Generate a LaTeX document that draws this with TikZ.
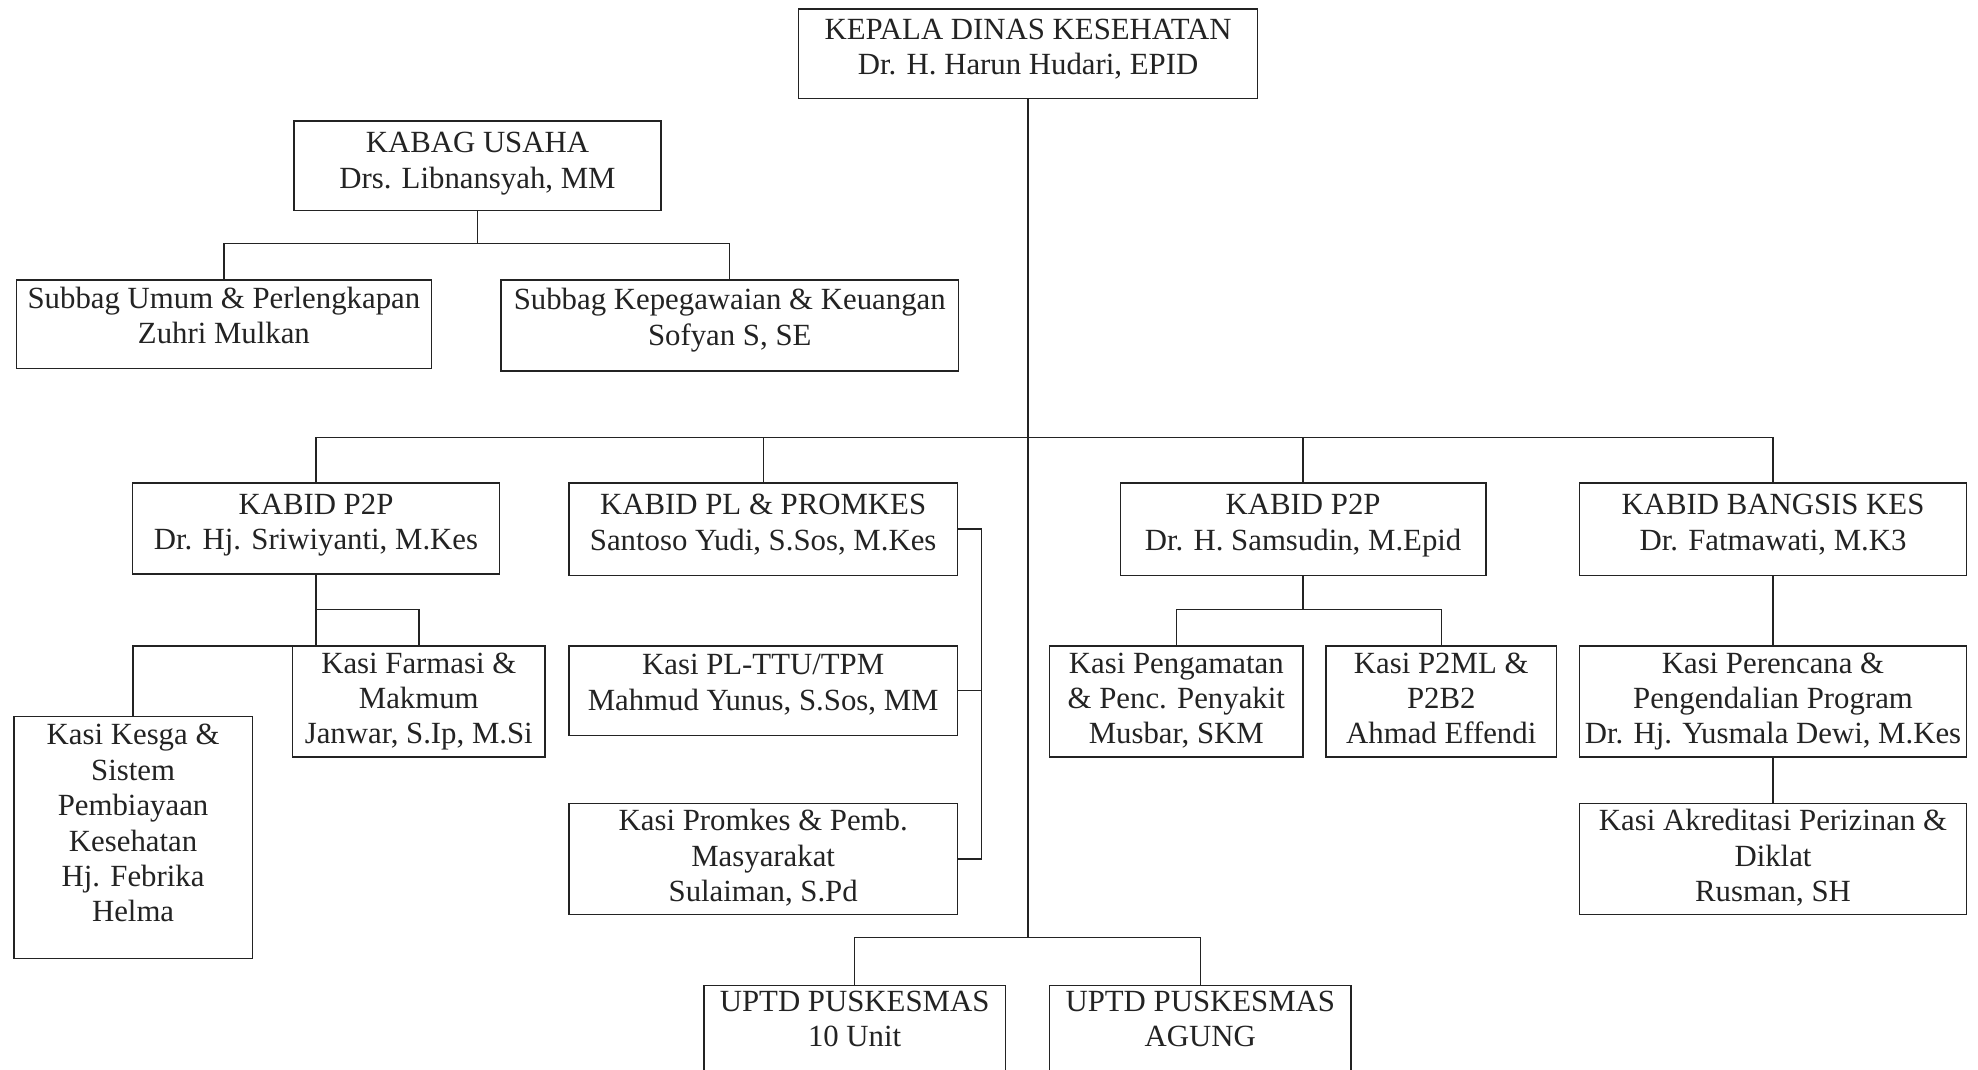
\documentclass[tikz,border=0pt]{standalone}
\usepackage{fontspec}
\setmainfont{Liberation Serif}
\definecolor{ink}{RGB}{35,35,35}
\tikzset{
  box/.style={draw=ink, line width=0.7pt, text=ink, inner sep=0pt,
              font=\fontsize{15.4}{17.7}\selectfont},
  conn/.style={draw=ink, line width=0.7pt}
}
% #1 = raise of the text (reference px), #2 name, #3..#6 corners, #7 text
\newcommand\orgbox[7][0]{\node[box, minimum width={(#5-#3)*0.63075pt}, minimum height={(#6-#4)*0.63075pt}] (#2) at ({(#3+#5)/2},{(#4+#6)/2}) {\raisebox{0pt}[\height][\dimexpr\depth+#1\dimexpr1.2615pt\relax\relax]{\begin{tabular}{@{}c@{}}#7\end{tabular}}};}
\begin{document}
\begin{tikzpicture}[x=0.63075pt, y=-0.63075pt]
\useasboundingbox (0,0) rectangle (1568,848);
\fill[white] (0,0) rectangle (1568,848);
\clip (0,0) rectangle (1568,848);

\orgbox[3]{kepala}{633}{7}{997}{78}{KEPALA DINAS KESEHATAN\\Dr. H. Harun Hudari, EPID}
\orgbox[2]{kabag}{233}{96}{524}{167}{KABAG USAHA\\Drs. Libnansyah, MM}
\orgbox[4]{sumum}{13}{222}{342}{292}{Subbag Umum \& Perlengkapan\\Zuhri Mulkan}
\orgbox[4]{skeu}{397}{222}{760}{294}{Subbag Kepegawaian \& Keuangan\\Sofyan S, SE}
\orgbox[3]{kpa}{105}{383}{396}{455}{KABID P2P\\Dr. Hj. Sriwiyanti, M.Kes}
\orgbox[3]{kpl}{451}{383}{759}{456}{KABID PL \& PROMKES\\Santoso Yudi, S.Sos, M.Kes}
\orgbox[3]{kpb}{888}{383}{1178}{456}{KABID P2P\\Dr. H. Samsudin, M.Epid}
\orgbox[3]{kbang}{1252}{383}{1559}{456}{KABID BANGSIS KES\\Dr. Fatmawati, M.K3}
\orgbox{farm}{232}{512}{432}{600}{Kasi Farmasi \&\\Makmum\\Janwar, S.Ip, M.Si}
\orgbox[9]{kesga}{11}{568}{200}{760}{Kasi Kesga \&\\Sistem\\Pembiayaan\\Kesehatan\\Hj. Febrika\\Helma}
\orgbox[4]{ttu}{451}{512}{759}{583}{Kasi PL-TTU/TPM\\Mahmud Yunus, S.Sos, MM}
\orgbox{prom}{451}{637}{759}{725}{Kasi Promkes \& Pemb.\\Masyarakat\\Sulaiman, S.Pd}
\orgbox{peng}{832}{512}{1033}{600}{Kasi Pengamatan\\\& Penc. Penyakit\\Musbar, SKM}
\orgbox{p2ml}{1051}{512}{1234}{600}{Kasi P2ML \&\\P2B2\\Ahmad Effendi}
\orgbox{renc}{1252}{512}{1559}{600}{Kasi Perencana \&\\Pengendalian Program\\Dr. Hj. Yusmala Dewi, M.Kes}
\orgbox{akr}{1252}{637}{1559}{725}{Kasi Akreditasi Perizinan \&\\Diklat\\Rusman, SH}
\orgbox[5]{u10}{558}{781}{797}{849}{UPTD PUSKESMAS\\10 Unit}
\orgbox[5]{uag}{832}{781}{1071}{849}{UPTD PUSKESMAS\\AGUNG}

% junction coordinates
\coordinate (jmain) at (815,347);
\coordinate (jbot) at (815,743);
\coordinate (jk) at (378.5,193);
\coordinate (jfa) at (250.5,483);
\coordinate (jfb) at (250.5,512);
\coordinate (jr) at (1033,483);
\coordinate (brtop) at (778,419.5);
\coordinate (brbot) at (778,681);

% head to bottom
\draw[conn] (kepala.south) -- (jbot);
% kabag usaha
\draw[conn] (kabag.south) -- (jk);
\draw[conn] (sumum.north) |- (jk) -| (skeu.north);
% main bus
\draw[conn] (kpa.north) |- (kbang.north |- jmain) -- (kbang.north);
\draw[conn] (kpl.north) -- (kpl.north |- jmain);
\draw[conn] (kpb.north) -- (kpb.north |- jmain);
% left kabid p2p
\draw[conn] (kpa.south) -- (jfb);
\draw[conn] (jfa) -| (farm.north);
\draw[conn] (jfb) -| (kesga.north);
% PL bracket
\draw[conn] (kpl.east) -- (brtop) -- (brbot) -- (prom.east);
\draw[conn] (ttu.east) -- (ttu.east -| brtop);
% right kabid p2p
\draw[conn] (kpb.south) -- (jr);
\draw[conn] (peng.north) |- (jr) -| (p2ml.north);
% bangsis
\draw[conn] (kbang.south) -- (renc.north);
\draw[conn] (renc.south) -- (akr.north);
% uptd
\draw[conn] (u10.north) |- (jbot) -| (uag.north);
\end{tikzpicture}
\end{document}
